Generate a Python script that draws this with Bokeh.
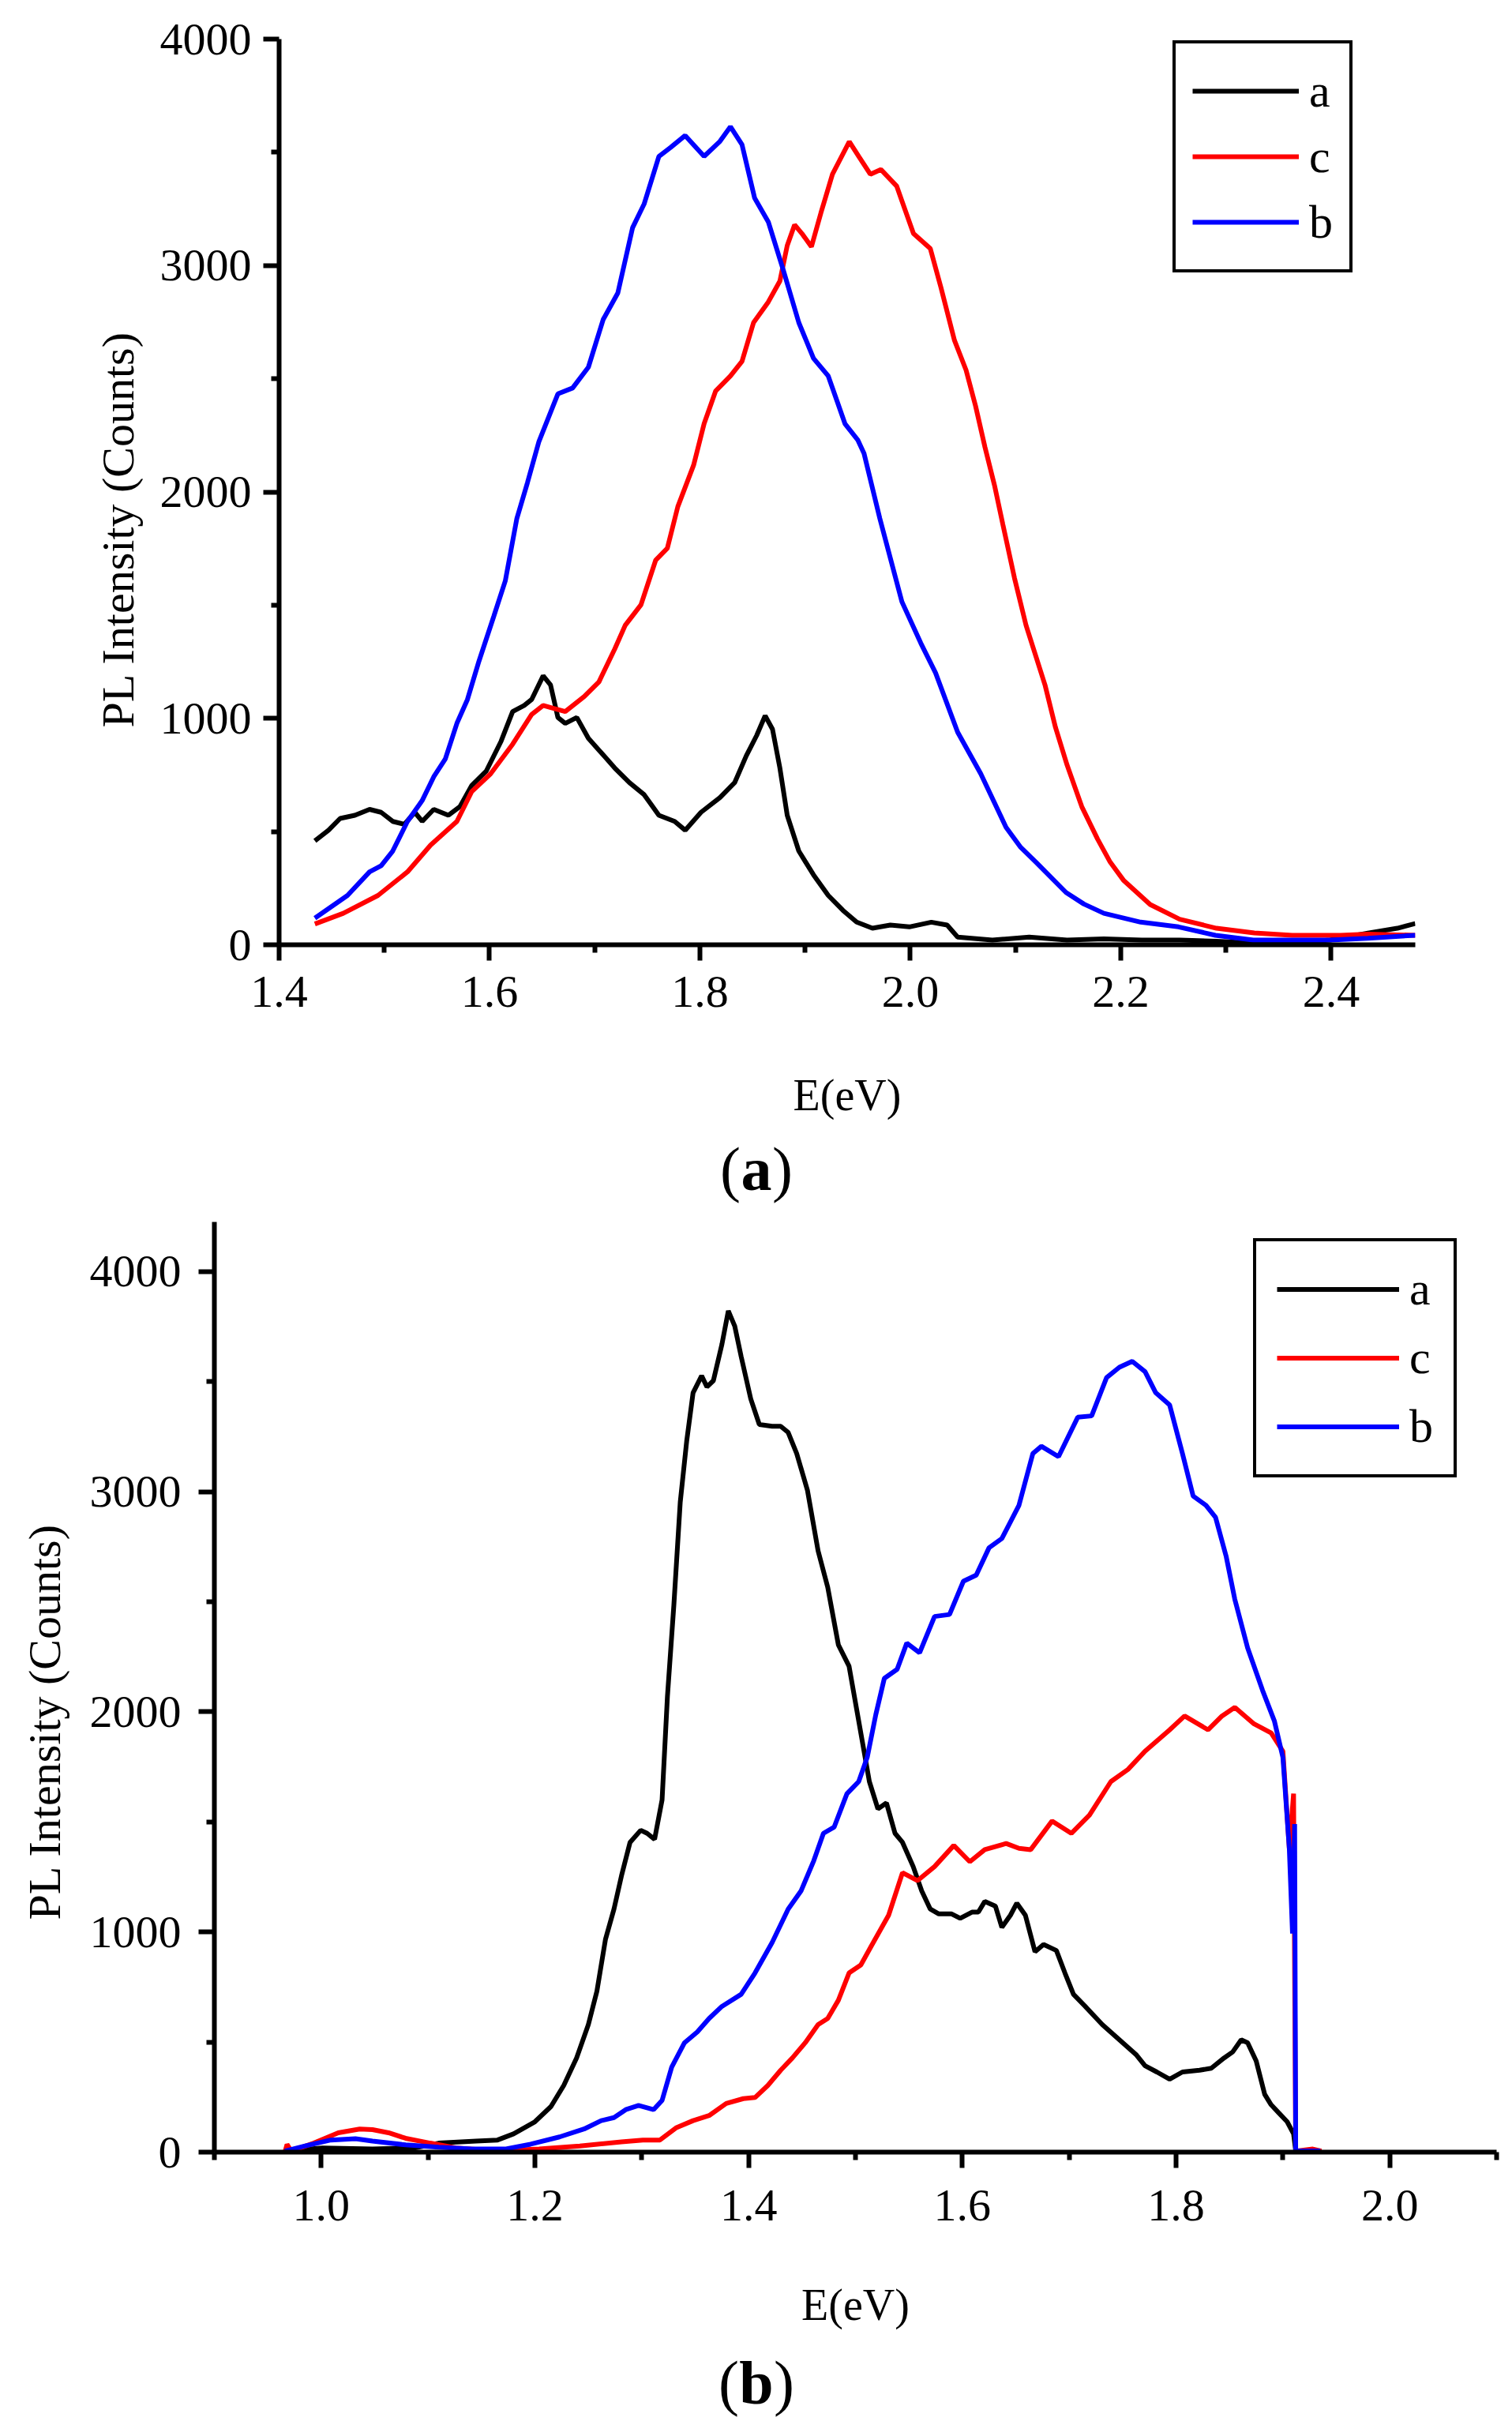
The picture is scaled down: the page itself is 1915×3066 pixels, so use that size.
from bokeh.plotting import figure
from bokeh.models import FixedTicker, NumeralTickFormatter, Legend, LegendItem, Label, Title
from bokeh.embed import file_html
from bokeh.resources import INLINE

# ---- panel (a) spectra, E in eV, PL intensity in counts ----
a_top_x = [1.434, 1.447, 1.458, 1.472, 1.486, 1.497, 1.508, 1.519, 1.529, 1.536, 1.547, 1.561,
           1.572, 1.583, 1.597, 1.611, 1.622, 1.633, 1.640, 1.651, 1.658, 1.665, 1.672, 1.683,
           1.694, 1.704, 1.719, 1.733, 1.747, 1.761, 1.776, 1.786, 1.801, 1.819, 1.833, 1.844,
           1.854, 1.862, 1.869, 1.876, 1.883, 1.894, 1.908, 1.922, 1.936, 1.949, 1.964, 1.981,
           1.999, 2.020, 2.035, 2.045, 2.078, 2.113, 2.149, 2.184, 2.220, 2.256, 2.291, 2.327,
           2.363, 2.399, 2.435, 2.463, 2.480]
a_top_y = [459, 506, 558, 572, 598, 585, 545, 532, 585, 545, 598, 572,
           611, 703, 768, 899, 1030, 1057, 1083, 1188, 1148, 1004, 978, 1004,
           912, 860, 781, 716, 663, 572, 545, 506, 585, 650, 716, 834,
           925, 1012, 952, 781, 572, 414, 309, 218, 152, 100, 73, 87,
           79, 100, 87, 34, 21, 34, 21, 26, 21, 21, 16, 8,
           8, 21, 52, 73, 94]

c_top_x = [1.434, 1.461, 1.494, 1.522, 1.544, 1.569, 1.583, 1.601, 1.622, 1.640, 1.651, 1.661,
           1.672, 1.690, 1.704, 1.719, 1.729, 1.744, 1.758, 1.769, 1.779, 1.794, 1.804, 1.815,
           1.829, 1.840, 1.851, 1.865, 1.876, 1.883, 1.890, 1.897, 1.906, 1.915, 1.926, 1.942,
           1.951, 1.962, 1.972, 1.987, 2.003, 2.019, 2.029, 2.042, 2.053, 2.062, 2.071, 2.080,
           2.088, 2.099, 2.110, 2.128, 2.138, 2.149, 2.163, 2.178, 2.190, 2.203, 2.228, 2.256,
           2.291, 2.327, 2.363, 2.409, 2.435, 2.480]
c_top_y = [92, 139, 218, 322, 440, 545, 676, 755, 886, 1017, 1057, 1044,
           1030, 1096, 1161, 1306, 1411, 1502, 1699, 1751, 1935, 2118, 2302, 2446,
           2512, 2577, 2748, 2839, 2931, 3088, 3180, 3141, 3083, 3232, 3403, 3547,
           3482, 3403, 3424, 3351, 3141, 3075, 2905, 2669, 2538, 2380, 2197, 2030,
           1856, 1620, 1411, 1148, 960, 794, 610, 467, 365, 283, 178, 113,
           73, 52, 42, 42, 47, 42]

b_top_x = [1.434, 1.465, 1.486, 1.497, 1.508, 1.522, 1.536, 1.547, 1.558, 1.569, 1.579, 1.590,
           1.604, 1.615, 1.626, 1.636, 1.647, 1.665, 1.679, 1.694, 1.708, 1.722, 1.736, 1.747,
           1.761, 1.772, 1.786, 1.804, 1.819, 1.829, 1.840, 1.852, 1.865, 1.879, 1.894, 1.908,
           1.922, 1.938, 1.950, 1.956, 1.971, 1.992, 2.010, 2.024, 2.045, 2.067, 2.091, 2.105,
           2.120, 2.148, 2.165, 2.184, 2.219, 2.255, 2.290, 2.326, 2.362, 2.399, 2.435, 2.480]
b_top_y = [118, 218, 322, 349, 414, 545, 637, 742, 821, 978, 1083, 1253,
           1450, 1607, 1883, 2040, 2223, 2433, 2459, 2551, 2761, 2879, 3167, 3272,
           3482, 3521, 3574, 3482, 3548, 3613, 3534, 3298, 3193, 2984, 2748, 2590,
           2512, 2300, 2230, 2170, 1883, 1515, 1332, 1201, 939, 755, 519, 430,
           362, 231, 180, 139, 100, 79, 42, 21, 21, 21, 29, 42]

# ---- panel (b) spectra ----
a_bot_x = [0.966, 1.001, 1.048, 1.087, 1.110, 1.145, 1.165, 1.180, 1.200, 1.215, 1.227, 1.239,
           1.250, 1.258, 1.266, 1.274, 1.281, 1.289, 1.299, 1.305, 1.312, 1.319, 1.324, 1.330,
           1.336, 1.342, 1.348, 1.356, 1.361, 1.367, 1.375, 1.381, 1.387, 1.393, 1.402, 1.410,
           1.422, 1.430, 1.437, 1.445, 1.455, 1.465, 1.474, 1.484, 1.494, 1.501, 1.507, 1.513,
           1.521, 1.529, 1.537, 1.544, 1.554, 1.562, 1.570, 1.578, 1.590, 1.598, 1.609, 1.615,
           1.621, 1.631, 1.637, 1.645, 1.651, 1.659, 1.668, 1.676, 1.688, 1.696, 1.704, 1.715,
           1.731, 1.747, 1.763, 1.771, 1.782, 1.794, 1.806, 1.822, 1.833, 1.845, 1.853, 1.861,
           1.867, 1.875, 1.883, 1.889, 1.896, 1.904, 1.910, 1.912, 1.935]
a_bot_y = [5, 19, 14, 19, 41, 50, 55, 83, 138, 207, 303, 428,
           579, 731, 966, 1104, 1255, 1407, 1462, 1448, 1421, 1600, 2069, 2483,
           2952, 3228, 3449, 3526, 3476, 3504, 3669, 3821, 3752, 3614, 3421, 3305,
           3297, 3297, 3269, 3173, 3007, 2731, 2566, 2304, 2207, 2014, 1849, 1683,
           1559, 1586, 1448, 1407, 1297, 1186, 1104, 1082, 1082, 1062, 1090, 1090,
           1139, 1117, 1021, 1076, 1131, 1076, 910, 943, 916, 814, 717, 662,
           579, 510, 441, 392, 364, 331, 364, 372, 381, 428, 455, 510,
           497, 414, 262, 215, 179, 138, 83, 5, 0]

c_bot_x = [0.966, 0.968, 0.972, 0.993, 1.016, 1.036, 1.048, 1.063, 1.079, 1.102, 1.126, 1.165,
           1.204, 1.242, 1.281, 1.301, 1.317, 1.332, 1.348, 1.363, 1.379, 1.395, 1.406, 1.418,
           1.430, 1.441, 1.453, 1.465, 1.474, 1.484, 1.494, 1.505, 1.515, 1.531, 1.544, 1.558,
           1.574, 1.592, 1.607, 1.621, 1.641, 1.653, 1.664, 1.684, 1.702, 1.719, 1.739, 1.755,
           1.771, 1.794, 1.808, 1.830, 1.843, 1.855, 1.873, 1.889, 1.900, 1.906, 1.910, 1.912,
           1.928, 1.936]
c_bot_y = [0, 35, 5, 41, 88, 105, 102, 88, 63, 41, 19, 5,
           14, 28, 47, 55, 55, 110, 143, 166, 221, 243, 248, 303,
           372, 428, 497, 579, 607, 690, 814, 850, 938, 1076, 1269, 1233,
           1297, 1393, 1319, 1374, 1402, 1380, 1374, 1504, 1448, 1531, 1683, 1738,
           1821, 1918, 1981, 1918, 1981, 2020, 1945, 1904, 1821, 1379, 1628, 5,
           14, 5]

b_bot_x = [0.966, 0.985, 1.009, 1.032, 1.048, 1.079, 1.110, 1.141, 1.172, 1.196, 1.223, 1.246,
           1.262, 1.274, 1.285, 1.297, 1.311, 1.319, 1.328, 1.340, 1.352, 1.363, 1.375, 1.393,
           1.406, 1.422, 1.437, 1.449, 1.461, 1.470, 1.480, 1.492, 1.503, 1.511, 1.519, 1.527,
           1.539, 1.548, 1.560, 1.574, 1.588, 1.601, 1.613, 1.625, 1.637, 1.653, 1.666, 1.674,
           1.690, 1.708, 1.721, 1.735, 1.747, 1.759, 1.771, 1.781, 1.794, 1.806, 1.816, 1.828,
           1.837, 1.847, 1.855, 1.867, 1.881, 1.892, 1.900, 1.906, 1.909, 1.911, 1.912, 1.935]
b_bot_y = [5, 28, 55, 61, 50, 33, 22, 14, 14, 36, 69, 105,
           143, 157, 193, 212, 193, 235, 386, 497, 546, 607, 662, 717,
           814, 952, 1104, 1186, 1324, 1448, 1476, 1628, 1683, 1793, 1987, 2152,
           2193, 2312, 2268, 2433, 2442, 2593, 2621, 2745, 2787, 2938, 3173, 3206,
           3159, 3338, 3344, 3518, 3565, 3592, 3545, 3449, 3394, 3173, 2980, 2938,
           2883, 2704, 2511, 2290, 2097, 1959, 1793, 1379, 993, 1490, 5, 5]

series_names = ["a", "c", "b"]
series_colors = ["#000000", "#ff0000", "#0000ff"]

top_x_ticks = [1.4, 1.6, 1.8, 2.0, 2.2, 2.4]
top_x_minor = [1.5, 1.7, 1.9, 2.1, 2.3]
bot_x_ticks = [1.0, 1.2, 1.4, 1.6, 1.8, 2.0]
bot_x_minor = [0.9, 1.1, 1.3, 1.5, 1.7, 1.9, 2.1]
y_ticks = [0, 1000, 2000, 3000, 4000]
y_minor = [500, 1500, 2500, 3500]

FONT = "Liberation Serif"
W = 1915


def style_axes(p, xt, xm, x_std, y_std, xlab_std, ylab_off, ylab_std, ylab_valign):
    p.outline_line_color = None
    p.grid.visible = False
    p.xaxis.ticker = FixedTicker(ticks=xt, minor_ticks=xm)
    p.yaxis.ticker = FixedTicker(ticks=y_ticks, minor_ticks=y_minor)
    p.xaxis.formatter = NumeralTickFormatter(format="0.0")
    p.yaxis.formatter = NumeralTickFormatter(format="0")
    p.xaxis.axis_label = "E(eV)"
    for ax in (p.xaxis, p.yaxis):
        ax.axis_line_width = 6
        ax.axis_line_color = "black"
        ax.major_tick_line_width = 6
        ax.minor_tick_line_width = 6
        ax.major_tick_out = 20
        ax.major_tick_in = 0
        ax.minor_tick_out = 10
        ax.minor_tick_in = 0
        ax.major_label_text_font = FONT
        ax.major_label_text_font_size = "58px"
        ax.major_label_text_color = "black"
        ax.axis_label_text_font = FONT
        ax.axis_label_text_font_size = "56px"
        ax.axis_label_text_font_style = "normal"
        ax.axis_label_text_color = "black"
    p.xaxis.major_label_standoff = x_std
    p.yaxis.major_label_standoff = y_std
    p.xaxis.axis_label_standoff = xlab_std
    # y label sits a little below the frame centre in the original, so use a side title
    p.add_layout(Title(text="PL Intensity (Counts)", align="left", offset=ylab_off,
                       standoff=ylab_std, vertical_align=ylab_valign,
                       text_font=FONT, text_font_size="58px", text_font_style="normal",
                       text_color="black"), "left")


def add_curves(p, xs, ys, loc, glyph_w, glyph_h, spacing, pad):
    items = []
    for name, color, x, y in zip(series_names, series_colors, xs, ys):
        r = p.line(x, y, line_color=color, line_width=6)
        items.append(LegendItem(label=name, renderers=[r]))
    leg = Legend(items=items, location=loc, margin=0, padding=pad,
                 glyph_width=glyph_w, glyph_height=glyph_h, label_height=glyph_h,
                 label_standoff=13, spacing=spacing,
                 label_text_font=FONT, label_text_font_size="60px", label_text_color="black",
                 border_line_color="black", border_line_width=4, border_line_alpha=1.0,
                 background_fill_color="white", background_fill_alpha=1.0)
    p.add_layout(leg, "center")


def caption(letter, h, cy, half):
    # small strip holding the "(a)" / "(b)" panel caption, bold letter in plain parentheses
    c = figure(width=W, height=h, x_range=(0, W), y_range=(0, h),
               x_axis_type=None, y_axis_type=None, output_backend="svg",
               toolbar_location=None, min_border=0)
    c.outline_line_color = None
    c.grid.visible = False
    common = dict(x=W / 2, y=h - cy, text_font=FONT, text_font_size="78px",
                  text_baseline="middle", text_color="black")
    c.add_layout(Label(text="(", text_align="right", x_offset=-half, **common))
    c.add_layout(Label(text=letter, text_align="center", text_font_style="bold", **common))
    c.add_layout(Label(text=")", text_align="left", x_offset=half, **common))
    return c


# panel (a)
p1 = figure(width=W, height=1430, x_range=(1.4, 2.48), y_range=(0, 4000),
            output_backend="svg", toolbar_location=None,
            min_border_left=353, min_border_right=123, min_border_top=49, min_border_bottom=234)
style_axes(p1, top_x_ticks, top_x_minor, 20, 15, 78, 275, 36, "bottom")
add_curves(p1, [a_top_x, c_top_x, b_top_x], [a_top_y, c_top_y, b_top_y], (1132, 851), 135, 78, 5, 21)
cap1 = caption("a", 108, 50, 20)

# panel (b)
p2 = figure(width=W, height=1420, x_range=(0.9, 2.1), y_range=(0, 4225),
            output_backend="svg", toolbar_location=None,
            min_border_left=271, min_border_right=20, min_border_top=9, min_border_bottom=233)
style_axes(p2, bot_x_ticks, bot_x_minor, 28, 22, 73, 294, 40, "top")
add_curves(p2, [a_bot_x, c_bot_x, b_bot_x], [a_bot_y, c_bot_y, b_bot_y], (1316, 854), 155, 67, 18, 26)
cap2 = caption("b", 108, 59, 22)

open("out.html", "w").write(file_html([p1, cap1, p2, cap2], INLINE))
